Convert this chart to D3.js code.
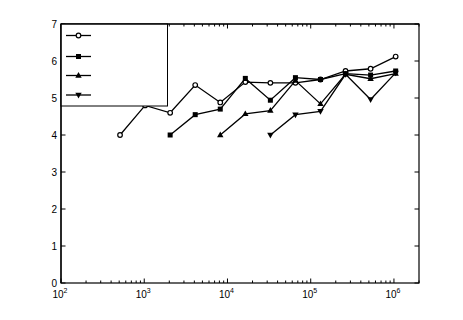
<!DOCTYPE html>
<html><head><meta charset="utf-8">
<script src="https://cdn.jsdelivr.net/npm/d3@7"></script>
<style>body{margin:0;background:#fff}svg{display:block}text{font-family:"Liberation Sans",Arial,Helvetica,sans-serif;}</style>
</head><body><svg id="c" width="463" height="320"></svg>
<script>
const xs = [512,1024,2048,4096,8192,16384,32768,65536,131072,262144,524288,1048576];
const s1 = [4.0,4.8,4.6,5.35,4.88,5.43,5.41,5.41,5.5,5.73,5.79,6.12];
const s2 = [null,null,4.0,4.55,4.7,5.53,4.94,5.55,5.5,5.66,5.62,5.73];
const s3 = [null,null,null,null,4.0,4.57,4.66,5.47,4.84,5.64,5.52,5.66];
const s4 = [null,null,null,null,null,null,4.0,4.55,4.64,5.64,4.96,5.68];
const xTicks = [2,3,4,5,6];
const yTicks = [0,1,2,3,4,5,6,7];
const markers = ["circle","square","up","down"];

const svg = d3.select("#c");
const L=61,R=419,T=24,B=283;
const x = d3.scaleLog().domain([100,2e6]).range([L,R]);
const y = d3.scaleLinear().domain([0,7]).range([B,T]);

const g = svg.append("g");
const minor=[];
for(let e=2;e<=6;e++) for(let m=2;m<=9;m++){const v=m*Math.pow(10,e); if(v<=2e6) minor.push(v);}
minor.forEach(v=>{
  g.append("line").attr("x1",x(v)).attr("x2",x(v)).attr("y1",B).attr("y2",B-2.5).attr("stroke","#000").attr("stroke-width",1);
  g.append("line").attr("x1",x(v)).attr("x2",x(v)).attr("y1",T).attr("y2",T+2.5).attr("stroke","#000").attr("stroke-width",1);
});
xTicks.forEach(e=>{
  const v=Math.pow(10,e);
  g.append("line").attr("x1",x(v)).attr("x2",x(v)).attr("y1",B).attr("y2",B-4.5).attr("stroke","#000");
  g.append("line").attr("x1",x(v)).attr("x2",x(v)).attr("y1",T).attr("y2",T+4.5).attr("stroke","#000");
  const t=g.append("text").attr("x",x(v)-1).attr("y",B+15).attr("text-anchor","middle").attr("font-size",10);
  t.append("tspan").text("10");
  t.append("tspan").attr("dy",-5).attr("font-size",7).text(e);
});
yTicks.forEach(v=>{
  g.append("line").attr("x1",L).attr("x2",L+4.5).attr("y1",y(v)).attr("y2",y(v)).attr("stroke","#000");
  g.append("line").attr("x1",R).attr("x2",R-4.5).attr("y1",y(v)).attr("y2",y(v)).attr("stroke","#000");
  g.append("text").attr("x",L-4).attr("y",y(v)+3.5).attr("text-anchor","end").attr("font-size",10).text(v);
});

const line = d3.line().defined(d=>d[1]!=null).x(d=>x(d[0])).y(d=>y(d[1]));
function marker(sel,type,cx,cy){
  if(type==="circle") sel.append("circle").attr("cx",cx).attr("cy",cy).attr("r",2.3).attr("fill","#fff").attr("stroke","#000").attr("stroke-width",1.2);
  else if(type==="square") sel.append("rect").attr("x",cx-2.5).attr("y",cy-2.5).attr("width",5).attr("height",5).attr("fill","#000");
  else if(type==="up") sel.append("path").attr("d",`M${cx},${cy-3.5}L${cx+3.2},${cy+2.2}L${cx-3.2},${cy+2.2}Z`).attr("fill","#000");
  else sel.append("path").attr("d",`M${cx},${cy+3.5}L${cx+3.2},${cy-2.2}L${cx-3.2},${cy-2.2}Z`).attr("fill","#000");
}
const series=[s1,s2,s3,s4];
series.forEach((s,i)=>{
  const data=xs.map((v,j)=>[v,s[j]]);
  g.append("path").datum(data).attr("d",line).attr("fill","none").attr("stroke","#000").attr("stroke-width",1.3);
  data.filter(d=>d[1]!=null).forEach(d=>marker(g,markers[i],x(d[0]),y(d[1])));
});

g.append("rect").attr("x",L).attr("y",T).attr("width",R-L).attr("height",B-T).attr("fill","none").attr("stroke","#000").attr("stroke-width",1.2);

const lg=svg.append("g");
lg.append("rect").attr("x",L).attr("y",T).attr("width",106.5).attr("height",82).attr("fill","#fff").attr("stroke","#000").attr("stroke-width",1);
const ly=[35.5,56.5,75.5,95];
markers.forEach((m,i)=>{
  lg.append("line").attr("x1",66).attr("x2",91).attr("y1",ly[i]).attr("y2",ly[i]).attr("stroke","#000").attr("stroke-width",1.3);
  marker(lg,m,78.5,ly[i]);
});
svg.append("line").attr("x1",L).attr("x2",L).attr("y1",T).attr("y2",B).attr("stroke","#000").attr("stroke-width",1.2);
svg.append("line").attr("x1",L).attr("x2",R).attr("y1",T).attr("y2",T).attr("stroke","#000").attr("stroke-width",1.2);
</script></body></html>
